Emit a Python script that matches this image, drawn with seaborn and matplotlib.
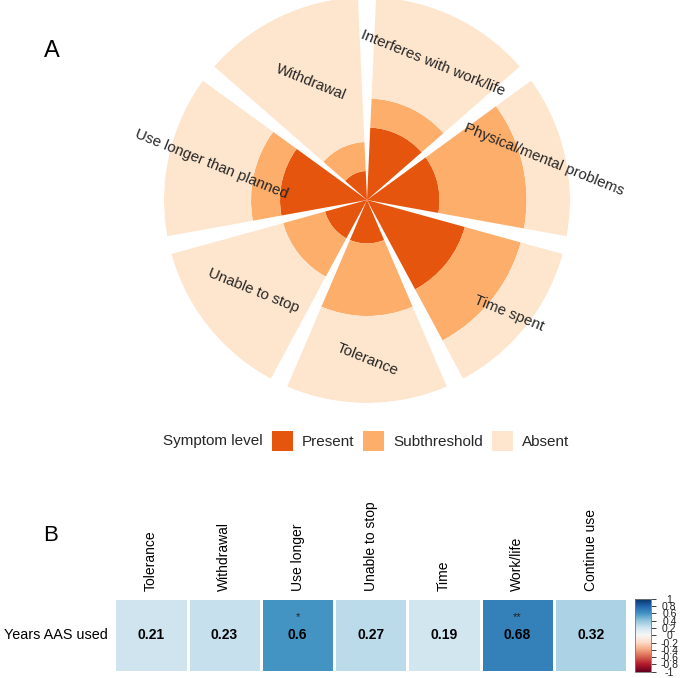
import numpy as np
import pandas as pd
import matplotlib
matplotlib.use("Agg")
import matplotlib.pyplot as plt
import seaborn as sns
from matplotlib.patches import Patch

# ---------------- data ----------------
symptoms = ["Interferes with work/life", "Physical/mental problems", "Time spent",
            "Tolerance", "Unable to stop", "Use longer than planned", "Withdrawal"]
present = [5, 5, 7, 3, 3, 6, 2]
subthreshold = [2, 6, 4, 5, 3, 2, 2]
absent = [7, 3, 3, 6, 8, 6, 10]
levels = ["Present", "Subthreshold", "Absent"]
level_colors = ["#E6550D", "#FDAE6B", "#FEE6CE"]

heat_cols = ["Tolerance", "Withdrawal", "Use longer", "Unable to stop",
             "Time", "Work/life", "Continue use"]
heat_row = ["Years AAS used"]
heat_vals = [0.21, 0.23, 0.6, 0.27, 0.19, 0.68, 0.32]
heat_sig = ["", "", "*", "", "", "**", ""]
cbar_ticks = [1, 0.8, 0.6, 0.4, 0.2, 0, -0.2, -0.4, -0.6, -0.8, -1]

# ---------------- style ----------------
sns.set_theme(style="white")
plt.rcParams['font.family'] = ['Liberation Sans', 'DejaVu Sans']

W, H = 685, 678
fig = plt.figure(figsize=(W / 100, H / 100), dpi=100)


def fx(px):
    return px / W


def fy(py):
    return 1 - py / H


TXT = '#262626'

# ---------------- panel A: polar stacked bars ----------------
cx, cy, R = 367, 200, 203
axp = fig.add_axes([fx(cx - R), fy(cy + R), 2 * R / W, 2 * R / H], projection='polar')
axp.set_theta_zero_location('N')
axp.set_theta_direction(-1)

df = pd.DataFrame({"Present": present, "Subthreshold": subthreshold, "Absent": absent},
                  index=symptoms)
n = len(symptoms)
slot = 2 * np.pi / n
theta = (np.arange(n) + 0.5) * slot
bottom = np.zeros(n)
for lev, col in zip(levels, level_colors):
    vals = df[lev].to_numpy(dtype=float)
    axp.bar(theta, vals, width=0.9 * slot, bottom=bottom, color=col,
            edgecolor='none', linewidth=0, align='center')
    bottom = bottom + vals
axp.set_ylim(0, bottom.max())

lab_r = (df["Present"] + df["Subthreshold"] + df["Absent"] / 2).to_numpy()
for t, r, s in zip(theta, lab_r, symptoms):
    axp.text(t, r, s, rotation=-22, rotation_mode='anchor', ha='center', va='center',
             fontsize=10.8, color=TXT, clip_on=False)
axp.axis('off')

# legend
handles = [Patch(facecolor=c, edgecolor='none', label=l) for l, c in zip(levels, level_colors)]
fig.legend(handles=handles, loc='center left', bbox_to_anchor=(fx(272), fy(441)),
           ncol=3, frameon=False, fontsize=11, handlelength=1.37, handleheight=1.64,
           handletextpad=0.59, columnspacing=0.59, borderpad=0, borderaxespad=0,
           labelcolor=TXT)
fig.text(fx(163), fy(441), "Symptom level", ha='left', va='center', fontsize=11, color=TXT)

fig.text(fx(44), fy(57), "A", fontsize=17, ha='left', va='baseline', color='black')
fig.text(fx(43), fy(541), "B", fontsize=16, ha='left', va='baseline', color='black')

# ---------------- panel B: heatmap ----------------
hdf = pd.DataFrame([heat_vals], index=heat_row, columns=heat_cols)
axh = fig.add_axes([fx(114.3), fy(672.3), 513 / W, 74 / H])
cax = fig.add_axes([fx(635), fy(671.7), 16 / W, 73 / H])
sns.heatmap(hdf, ax=axh, cbar_ax=cax, cmap='RdBu', vmin=-1, vmax=1,
            annot=True, fmt='g',
            annot_kws={'fontsize': 10, 'fontweight': 'bold', 'color': 'black'},
            linewidths=0.8, linecolor='white')
axh.xaxis.tick_top()
axh.set_xticks(np.arange(len(heat_cols)) + 0.5)
axh.set_xticklabels(heat_cols, rotation=90, fontsize=10, color='black')
axh.set_yticklabels(heat_row, rotation=0, fontsize=10.4, color='black')
axh.tick_params(axis='x', length=0, pad=5.5, top=True, bottom=False,
                labeltop=True, labelbottom=False)
axh.tick_params(axis='y', length=0, pad=5)
axh.set_xlabel("")
axh.set_ylabel("")
for i, s in enumerate(heat_sig):
    if s:
        axh.text(i + 0.5, 0.25, s, ha='center', va='center', fontsize=8, color='#222222')

cb = axh.collections[0].colorbar
cb.outline.set_linewidth(0.6)
cb.outline.set_edgecolor('#777777')
cax.set_yticks(cbar_ticks)
cax.set_yticklabels([f"{t:g}" for t in cbar_ticks], fontsize=7.5, color='#222222')
cax.tick_params(axis='y', length=3.6, width=0.6, color='#222222', pad=9.6, right=True)
for lab in cax.get_yticklabels():
    lab.set_ha('center')

fig.savefig("out.png", dpi=100)
